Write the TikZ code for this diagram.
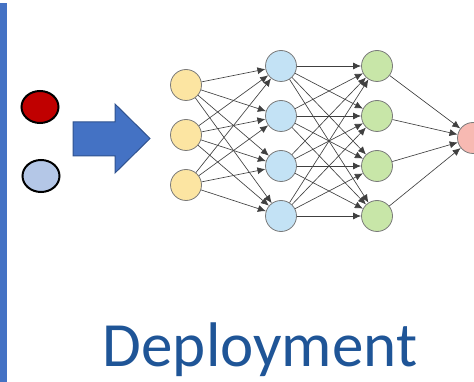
\documentclass[tikz,border=0pt]{standalone}
\usepackage{fontspec}
\setmainfont{Carlito}
\usetikzlibrary{arrows.meta,shapes.geometric}
\definecolor{officeblue}{HTML}{4472C4}
\definecolor{officeblueedge}{HTML}{2F528F}
\definecolor{darkred}{HTML}{C00000}
\definecolor{paleblue}{HTML}{B4C7E7}
\definecolor{inyellow}{HTML}{FCE5A2}
\definecolor{hidblue}{HTML}{C3E2F5}
\definecolor{hidgreen}{HTML}{C8E6A8}
\definecolor{outpink}{HTML}{F7B9B2}
\definecolor{neuronedge}{HTML}{7A7A7A}
\definecolor{titleblue}{HTML}{1F5597}
\tikzset{
  neuron/.style={circle, draw=neuronedge, line width=0.8pt, minimum size=31pt, inner sep=0pt},
  token/.style={ellipse, draw=black, line width=2pt, minimum width=37pt, minimum height=32pt, inner sep=0pt},
  synapse/.style={draw=black!75, line width=0.65pt, -{Latex[length=8pt,width=7pt]}},
}
\begin{document}
\begin{tikzpicture}[x=1pt,y=-1pt]
\useasboundingbox (0,0) rectangle (474,382);
% left margin bar
\fill[officeblue] (0,3) rectangle (7,382);
% two sample tokens
\node[token, fill=darkred] (tokA) at (40,107) {};
\node[token, fill=paleblue] (tokB) at (41,176) {};
% block arrow
\draw[fill=officeblue, draw=officeblueedge, line width=1pt]
  (73,122) -- (115,122) -- (115,104) -- (150,138.5) -- (115,173) -- (115,156) -- (73,156) -- cycle;
% input layer
\foreach \i/\y in {1/85,2/135,3/185}
  \node[neuron, fill=inyellow] (in\i) at (186,\y) {};
% first hidden layer
\foreach \i/\y in {1/66,2/116,3/166,4/216}
  \node[neuron, fill=hidblue] (ha\i) at (281,\y) {};
% second hidden layer
\foreach \i/\y in {1/66,2/116,3/166,4/216}
  \node[neuron, fill=hidgreen] (hb\i) at (377,\y) {};
% output neuron
\node[neuron, fill=outpink] (out) at (473,138) {};
% connections
\foreach \i in {1,2,3}
  \foreach \j in {1,2,3,4}
    \draw[synapse] (in\i) -- (ha\j);
\foreach \i in {1,2,3,4}
  \foreach \j in {1,2,3,4}
    \draw[synapse] (ha\i) -- (hb\j);
\foreach \i in {1,2,3,4}
  \draw[synapse] (hb\i) -- (out);
% caption
\node[anchor=base, text=titleblue, font=\fontsize{63}{70}\selectfont, inner sep=0pt] (title) at (260,366) {Deployment};
\end{tikzpicture}
\end{document}
